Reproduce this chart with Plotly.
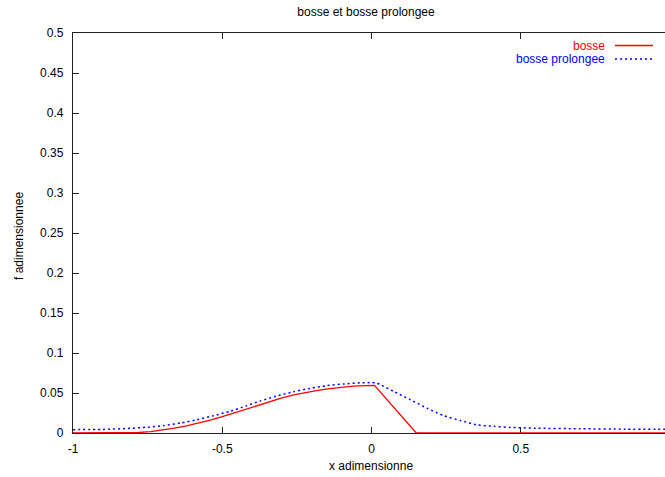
import plotly.graph_objects as go

# ---- data ----
bosse_x = [-1.0, -0.9, -0.82, -0.78, -0.74, -0.70, -0.66, -0.62, -0.58, -0.54, -0.50,
           -0.46, -0.42, -0.38, -0.34, -0.30, -0.26, -0.22, -0.18, -0.14, -0.10,
           -0.06, -0.02, 0.01, 0.15, 0.5, 1.0]
bosse_y = [0.0, 0.0, 0.0, 0.0006, 0.0018, 0.0036, 0.0060, 0.0089, 0.0122, 0.0161, 0.0204,
           0.0250, 0.0299, 0.0348, 0.0395, 0.0438, 0.0476, 0.0508, 0.0534, 0.0555, 0.0572,
           0.0585, 0.0592, 0.0595, 0.0, 0.0, 0.0]

prol_x = [-1.0, -0.9, -0.808, -0.75, -0.696, -0.64, -0.585, -0.53, -0.473, -0.42,
          -0.373, -0.32, -0.261, -0.205, -0.15, -0.09, -0.0375, 0.0, 0.015, 0.03, 0.074,
          0.13, 0.186, 0.24, 0.30, 0.35, 0.41, 0.465, 0.55, 0.7, 0.85, 1.0]
prol_y = [0.0042, 0.0045, 0.0058, 0.0073, 0.0093, 0.0125, 0.0166, 0.0215, 0.0272, 0.0338,
          0.0400, 0.0460, 0.0516, 0.0558, 0.0592, 0.0614, 0.0627, 0.0630, 0.0628, 0.0604, 0.0520,
          0.0417, 0.0310, 0.0220, 0.0154, 0.0104, 0.0083, 0.0070, 0.0060, 0.0053, 0.0048, 0.0045]

x_tickvals = [-1, -0.5, 0, 0.5, 1]
x_ticktext = ["-1", "-0.5", "0", "0.5", "1"]
y_tickvals = [0, 0.05, 0.1, 0.15, 0.2, 0.25, 0.3, 0.35, 0.4, 0.45, 0.5]
y_ticktext = ["0", "0.05", "0.1", "0.15", "0.2", "0.25", "0.3", "0.35", "0.4", "0.45", "0.5"]

title_text = "bosse et bosse prolongee"
xlabel = "x adimensionne"
ylabel = "f adimensionnee"
names = ["bosse", "bosse prolongee"]
colors = ["#ff0000", "#0000ff"]

W, H = 665, 477
L, T, B, R = 73, 33, 44, 0
pw = W - L - R
ph = H - T - B
px_per_unit = 298.5
x_max = -1 + pw / px_per_unit

FONT = "Liberation Sans, Arial, sans-serif"

fig = go.Figure()
fig.add_trace(go.Scatter(x=bosse_x, y=bosse_y, mode="lines", name=names[0],
                         line=dict(color=colors[0], width=1.3)))
fig.add_trace(go.Scatter(x=prol_x, y=prol_y, mode="lines", name=names[1],
                         line=dict(color=colors[1], width=1.5, dash="2px,3px", shape="spline", smoothing=0.6)))

def px_x(p):
    return (p - L) / pw

def px_y(p):
    return (H - B - p) / ph

annotations = [
    dict(text=xlabel, x=px_x(371), y=px_y(466), xref="paper", yref="paper",
         showarrow=False, xanchor="center", yanchor="middle", font=dict(size=12, color="black")),
    dict(text=ylabel, x=px_x(19), y=px_y(236), xref="paper", yref="paper", textangle=-90,
         showarrow=False, xanchor="center", yanchor="middle", font=dict(size=12, color="black")),
    dict(text=names[0], x=px_x(607), y=px_y(45.7), xref="paper", yref="paper",
         showarrow=False, xanchor="right", yanchor="middle", font=dict(size=12, color=colors[0])),
    dict(text=names[1], x=px_x(607), y=px_y(58.8), xref="paper", yref="paper",
         showarrow=False, xanchor="right", yanchor="middle", font=dict(size=12, color=colors[1])),
]
shapes = [
    dict(type="line", xref="paper", yref="paper", x0=px_x(615), x1=px_x(653), y0=px_y(45.5), y1=px_y(45.5),
         line=dict(color=colors[0], width=1.3)),
    dict(type="line", xref="paper", yref="paper", x0=px_x(615), x1=px_x(653), y0=px_y(59), y1=px_y(59),
         line=dict(color=colors[1], width=1.5, dash="2px,3px")),
]

fig.update_layout(
    width=W, height=H,
    margin=dict(l=L, r=R, t=T, b=B, pad=0),
    paper_bgcolor="white", plot_bgcolor="white",
    showlegend=False,
    font=dict(family=FONT, size=12, color="black"),
    title=dict(text=title_text, x=366 / W, xanchor="center", y=1 - 12 / H, yanchor="middle",
               font=dict(size=12, color="black")),
    xaxis=dict(range=[-1, x_max], tickvals=x_tickvals, ticktext=x_ticktext,
               showgrid=False, zeroline=False, showline=True, linecolor="#222", linewidth=1.3,
               mirror="ticks", ticks="inside", ticklen=6, tickcolor="#222", tickwidth=1,
               ticklabelstandoff=4, layer="below traces"),
    yaxis=dict(range=[0, 0.5], tickvals=y_tickvals, ticktext=y_ticktext,
               showgrid=False, zeroline=False, showline=True, linecolor="#222", linewidth=1.3,
               ticks="inside", ticklen=6, tickcolor="#222", tickwidth=1,
               ticklabelstandoff=6, layer="below traces"),
    yaxis2=dict(range=[0, 0.5], overlaying="y", side="right", tickvals=y_tickvals,
                showgrid=False, zeroline=False, showline=False, showticklabels=False,
                ticks="inside", ticklen=5, tickcolor="#222", tickwidth=1),
    annotations=annotations,
    shapes=shapes,
)

fig.write_html("out.html")
